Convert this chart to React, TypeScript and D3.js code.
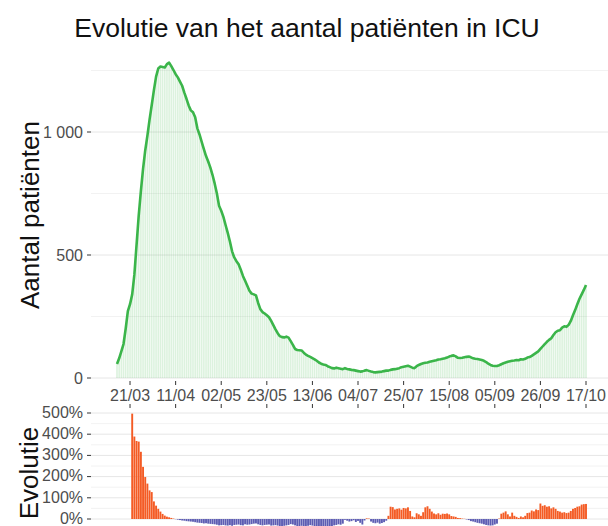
import React, { useEffect, useRef } from 'react';
import * as d3 from 'd3';

// aantal patiënten in ICU per dag, vanaf 15/03/2020 t.e.m. 17/10/2020
const startDatum = '2020-03-15';
const icu = [
  57, 80, 108, 138, 200, 272, 300, 340, 420, 540, 660, 760, 850, 925, 985, 1050,
  1110, 1170, 1225, 1258, 1266, 1264, 1262, 1276, 1282, 1268, 1252, 1235, 1222, 1205,
  1188, 1160, 1135, 1108, 1088, 1080, 1060, 1015, 990, 960, 930, 902, 880, 855, 825,
  790, 750, 700, 680, 655, 622, 590, 555, 515, 490, 475, 462, 440, 415, 395, 375,
  355, 343, 340, 336, 305, 280, 268, 262, 255, 247, 232, 215, 198, 182, 170, 166,
  165, 168, 164, 150, 135, 118, 114, 113, 112, 103, 95, 90, 86, 81, 76, 70,
  63, 58, 55, 53, 48, 44, 40, 39, 42, 40, 38, 36, 40, 37, 35, 33,
  32, 30, 28, 26, 27, 30, 32, 29, 26, 24, 23, 24, 25, 26, 28, 30,
  30, 33, 35, 36, 38, 40, 44, 46, 48, 50, 46, 42, 40, 48, 53, 57,
  60, 62, 63, 66, 68, 70, 72, 75, 76, 78, 80, 83, 87, 90, 92, 88,
  82, 81, 82, 84, 86, 87, 84, 80, 78, 77, 75, 73, 70, 65, 58, 53,
  50, 49, 49, 52, 56, 60, 63, 66, 68, 70, 71, 73, 72, 76, 75, 78,
  83, 85, 90, 96, 102, 108, 118, 128, 138, 147, 155, 162, 175, 186, 192, 194,
  205, 210, 208, 216, 232, 255, 276, 300, 322, 340, 358, 378,
];

// evolutie (%) t.o.v. een week eerder, vanaf 22/03/2020
const evolutie = [
  497, 389, 368, 365, 317, 246, 198, 167, 135, 127, 83, 63, 48, 35, 24, 16,
  11, 8, 5, 2, -1, -3, -5, -7, -8, -10, -11, -12, -13, -15, -17, -18,
  -19, -21, -20, -22, -23, -24, -25, -27, -30, -29, -28, -30, -31, -29, -32, -28,
  -27, -26, -29, -30, -25, -27, -26, -24, -22, -21, -25, -28, -30, -28, -27, -26,
  -31, -30, -29, -31, -33, -34, -32, -30, -28, -24, -26, -30, -34, -33, -32, -35,
  -34, -32, -29, -31, -33, -34, -37, -36, -35, -38, -36, -34, -34, -30, -28, -25,
  -27, -22, -4, -8, -12, -10, -6, -14, -9, -18, -26, -7, 3, 2, -12, -18,
  -20, -17, -22, -19, -15, -8, 15, 58, 56, 45, 48, 50, 44, 52, 50, 55,
  38, 12, 8, 27, 22, 15, 32, 55, 60, 48, 35, 26, 22, 27, 20, 25,
  24, 26, 22, 14, 12, 10, 5, 4, 2, 1, -2, -5, -10, -12, -15, -18,
  -20, -22, -25, -28, -30, -31, -30, -26, -22, 2, 25, 30, 36, 22, 12, 30,
  15, 10, 5, 12, 8, 15, 28, 30, 40, 36, 45, 42, 73, 62, 65, 58,
  60, 50, 55, 48, 38, 35, 30, 32, 28, 30, 38, 48, 52, 58, 60, 68,
  70, 71,
];

const xTicks = ['2020-03-21', '2020-04-11', '2020-05-02', '2020-05-23', '2020-06-13', '2020-07-04',
  '2020-07-25', '2020-08-15', '2020-09-05', '2020-09-26', '2020-10-17'];
const yTicksTop = [0, 500, 1000];
const yMinorTop = [250, 750, 1250];
const yTicksBottom = [0, 100, 200, 300, 400, 500];
const yMinorBottom = [50, 150, 250, 350, 450];

const titel = 'Evolutie van het aantal patiënten in ICU';
const yTitelTop = 'Aantal patiënten';
const yTitelBottom = 'Evolutie';

const font = "'Liberation Sans', Arial, sans-serif";

const App = () => {
  const ref = useRef<SVGSVGElement>(null);

  useEffect(() => {
    document.body.style.margin = '0';
    const left = 91;
    const right = 608;

    const svg = d3.select(ref.current);
    svg.selectAll('*').remove();

    const parse = d3.timeParse('%Y-%m-%d');
    const start = parse(startDatum) as Date;
    const dates = icu.map((_, i) => d3.timeDay.offset(start, i));
    const fmt = d3.timeFormat('%d/%m');

    const x = d3.scaleTime().domain([dates[0], dates[dates.length - 1]]).range([117, 586]);
    const y = d3.scaleLinear().domain([0, 1000]).range([378, 132]);
    const y2 = d3.scaleLinear().domain([0, 500]).range([519, 413]);

    // titel
    svg.append('text')
      .attr('x', 307).attr('y', 37)
      .attr('text-anchor', 'middle')
      .attr('font-family', font).attr('font-size', 26.5).attr('fill', '#111')
      .text(titel);

    // --- bovenste paneel ---
    const top = svg.append('g');
    top.selectAll('.grid-minor')
      .data(yMinorTop).enter().append('line')
      .attr('x1', left).attr('x2', right)
      .attr('y1', (d) => y(d)).attr('y2', (d) => y(d))
      .attr('stroke', '#EFEFEF').attr('stroke-width', 0.8);
    top.selectAll('.grid-major')
      .data(yTicksTop).enter().append('line')
      .attr('x1', left).attr('x2', right)
      .attr('y1', (d) => y(d)).attr('y2', (d) => y(d))
      .attr('stroke', '#E6E6E6').attr('stroke-width', 1);

    top.selectAll('.bar')
      .data(icu).enter().append('rect')
      .attr('x', (_, i) => x(dates[i]) - 0.8)
      .attr('width', 1.6)
      .attr('y', (d) => y(d))
      .attr('height', (d) => y(0) - y(d))
      .attr('fill', '#3BB54A').attr('fill-opacity', 0.18);

    const line = d3.line<number>()
      .x((_, i) => x(dates[i]))
      .y((d) => y(d));
    top.append('path')
      .datum(icu)
      .attr('d', line)
      .attr('fill', 'none')
      .attr('stroke', '#3BB54A')
      .attr('stroke-width', 2.6)
      .attr('stroke-linejoin', 'round');

    // y-as boven
    top.selectAll('.ytick')
      .data(yTicksTop).enter().append('line')
      .attr('x1', 87).attr('x2', 91)
      .attr('y1', (d) => y(d)).attr('y2', (d) => y(d))
      .attr('stroke', '#333').attr('stroke-width', 1);
    top.selectAll('.ylab')
      .data(yTicksTop).enter().append('text')
      .attr('x', 83).attr('y', (d) => y(d))
      .attr('dy', '0.35em')
      .attr('text-anchor', 'end')
      .attr('font-family', font).attr('font-size', 16).attr('fill', '#4D4D4D')
      .text((d) => d3.format(',')(d).replace(',', ' '));

    // x-as
    const tickDates = xTicks.map((t) => parse(t) as Date);
    top.selectAll('.xtick')
      .data(tickDates).enter().append('line')
      .attr('x1', (d) => x(d)).attr('x2', (d) => x(d))
      .attr('y1', 381).attr('y2', 385)
      .attr('stroke', '#333').attr('stroke-width', 1);
    top.selectAll('.xlab')
      .data(tickDates).enter().append('text')
      .attr('x', (d) => x(d)).attr('y', 401)
      .attr('text-anchor', 'middle')
      .attr('font-family', font).attr('font-size', 16).attr('fill', '#4D4D4D')
      .text((d) => fmt(d));

    top.append('text')
      .attr('transform', 'translate(39,215) rotate(-90)')
      .attr('text-anchor', 'middle')
      .attr('font-family', font).attr('font-size', 26).attr('fill', '#111')
      .text(yTitelTop);

    // --- onderste paneel ---
    const bot = svg.append('g');
    bot.selectAll('.xtick2')
      .data(tickDates).enter().append('line')
      .attr('x1', (d) => x(d)).attr('x2', (d) => x(d))
      .attr('y1', 404).attr('y2', 408)
      .attr('stroke', '#333').attr('stroke-width', 1);

    bot.selectAll('.grid-minor2')
      .data(yMinorBottom).enter().append('line')
      .attr('x1', left).attr('x2', right)
      .attr('y1', (d) => y2(d)).attr('y2', (d) => y2(d))
      .attr('stroke', '#EFEFEF').attr('stroke-width', 0.8);
    bot.selectAll('.grid-major2')
      .data(yTicksBottom).enter().append('line')
      .attr('x1', left).attr('x2', right)
      .attr('y1', (d) => y2(d)).attr('y2', (d) => y2(d))
      .attr('stroke', '#E6E6E6').attr('stroke-width', 1);

    bot.selectAll('.evo')
      .data(evolutie).enter().append('rect')
      .attr('x', (_, i) => x(dates[i + 7]) - 0.95)
      .attr('width', 1.9)
      .attr('y', (d) => (d >= 0 ? y2(d) : y2(0)))
      .attr('height', (d) => Math.abs(y2(d) - y2(0)))
      .attr('fill', (d) => (d >= 0 ? '#F45B24' : '#5D5DB3'));

    bot.selectAll('.ytick2')
      .data(yTicksBottom).enter().append('line')
      .attr('x1', 87).attr('x2', 91)
      .attr('y1', (d) => y2(d)).attr('y2', (d) => y2(d))
      .attr('stroke', '#333').attr('stroke-width', 1);
    bot.selectAll('.ylab2')
      .data(yTicksBottom).enter().append('text')
      .attr('x', 83).attr('y', (d) => y2(d))
      .attr('dy', '0.3em')
      .attr('text-anchor', 'end')
      .attr('font-family', font).attr('font-size', 16).attr('fill', '#4D4D4D')
      .text((d) => `${d}%`);

    bot.append('text')
      .attr('transform', 'translate(38,473) rotate(-90)')
      .attr('text-anchor', 'middle')
      .attr('font-family', font).attr('font-size', 26).attr('fill', '#111')
      .text(yTitelBottom);
  }, []);

  return <svg ref={ref} width={608} height={526} style={{ display: 'block', overflow: 'hidden' }} />;
};

export default App;
